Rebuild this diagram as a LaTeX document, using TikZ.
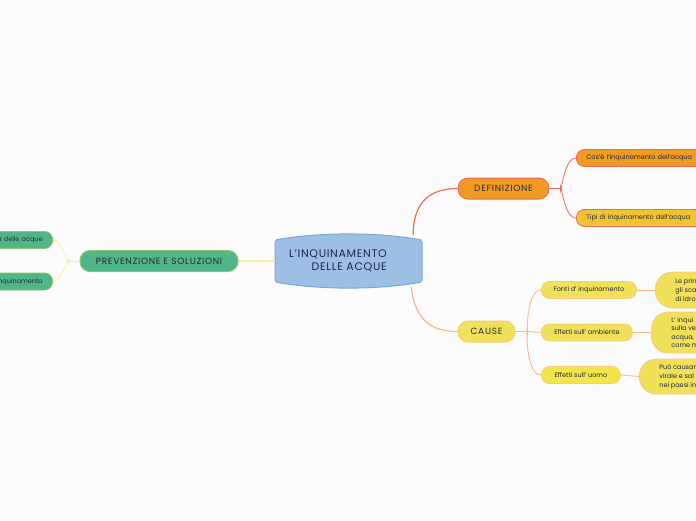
\documentclass[tikz,border=0pt]{standalone}
\usepackage{fontspec}
\setmainfont{Poppins}
\definecolor{bgc}{HTML}{FCFCFC}
\definecolor{ink}{HTML}{252A33}
\definecolor{blueF}{HTML}{9EBFE4}
\definecolor{blueD}{HTML}{7BA7D6}
\definecolor{greenF}{HTML}{50B688}
\definecolor{greenD}{HTML}{8CC56B}
\definecolor{orangeF}{HTML}{F09B22}
\definecolor{redD}{HTML}{F06A58}
\definecolor{goldF}{HTML}{F1C232}
\definecolor{yelF}{HTML}{F0E05A}
\definecolor{yelD}{HTML}{F9CB7A}
\definecolor{lineY}{HTML}{F7F09A}
\definecolor{lineR}{HTML}{F26A5E}
\definecolor{lineO}{HTML}{FDB585}
\tikzset{
  topic/.style={rounded corners=10pt, draw, line width=1pt, minimum height=21pt,
    inner xsep=2pt, font=\fontsize{9}{10}\selectfont\addfontfeature{LetterSpace=8}, text=ink},
  sub/.style={rounded corners=8pt, draw, line width=0.8pt, minimum height=17pt,
    inner xsep=10pt, font=\fontsize{6.5}{7}\selectfont, text=ink},
  leaf/.style={rounded corners=17pt, draw, line width=0.8pt, align=left,
    inner xsep=20pt, font=\fontsize{6.5}{9}\selectfont, text=ink, anchor=west}
}
\begin{document}
\begin{tikzpicture}[x=1pt, y=-1pt]
    \useasboundingbox (0,0) rectangle (696,520);
    \fill[bgc] (0,0) rectangle (696,520);
    \clip (0,0) rectangle (696,520);

    % central idea
    \filldraw[fill=blueF, draw=blueD, line width=1pt, rounded corners=2pt]
        (275,240) .. controls (320,232) and (377,232) .. (422,240) -- (422,282)
        .. controls (377,290) and (320,290) .. (275,282) -- cycle;
    \node[minimum width=147pt, minimum height=52pt] (central) at (348.5,261) {};
    \node[align=right, text=ink!85!blue, font=\fontsize{11}{13}\selectfont\addfontfeature{LetterSpace=6}] (title) at (338,261)
        {L'INQUINAMENTO\\DELLE ACQUE};

    % main branches
    \node[topic, fill=greenF, draw=greenD, minimum width=158pt] (prev) at (159,261) {PREVENZIONE E SOLUZIONI};
    \node[topic, fill=orangeF, draw=redD, minimum width=91pt] (defin) at (503.5,188.5) {DEFINIZIONE};
    \node[topic, fill=yelF, draw=yelD, minimum width=57pt] (cause) at (486.5,331.5) {CAUSE};

    % prevenzione
    \node[sub, fill=greenF, draw=greenD, anchor=east, text width=60pt, align=right] (tutela) at (53,240) {a delle acque};
    \node[sub, fill=greenF, draw=greenD, anchor=east, text width=60pt, align=right] (ridur) at (53,281.5) {nquinamento};

    % definizione
    \node[sub, fill=orangeF, draw=redD, anchor=west, minimum width=140pt, align=left, text width=120pt] (cosa) at (576,158) {Cos'è l'inquinamento dell'acqua};
    \node[sub, fill=goldF, draw=redD, anchor=west, minimum width=140pt, align=left, text width=120pt] (tipi) at (576,218) {Tipi di inquinamento dell'acqua};

    % cause
    \node[sub, fill=yelF, draw=yelD, anchor=west, minimum width=95pt] (fonti) at (541,290) {Fonti d' inquinamento};
    \node[sub, fill=yelF, draw=yelD, anchor=west, minimum width=91pt] (amb) at (541,332.5) {Effetti sull' ambiente};
    \node[sub, fill=yelF!85!yellow, draw=yelD, anchor=west, minimum width=79pt] (uomo) at (541,375) {Effetti sull' uomo};

    \node[leaf, fill=yelF, draw=yelD, minimum height=36pt] (fontiT) at (655,290) {Le prin\\gli sca\\di idro};
    \node[leaf, fill=yelF, draw=yelD, minimum height=41pt, font=\fontsize{6.5}{8.5}\selectfont] (ambT) at (651,332.5) {L' inqui\\sulla ve\\acqua,\\come m};
    \node[leaf, fill=yelF, draw=yelD, minimum height=35pt] (uomoT) at (639,376.5) {Può causar\\virale e sal\\nei paesi in};

    % connectors from the centre
    \draw[lineY, line width=1.5pt] (central.west) -- (prev.east);
    \draw[lineR, line width=1.2pt] ([xshift=-9pt]central.north east) .. controls +(0,-35) and +(-25,0) .. (defin.west);
    \draw[lineO, line width=1.2pt] ([xshift=-11pt]central.south east) .. controls +(4,34) and +(-25,0) .. (cause.west);

    % connectors to sub topics
    \draw[lineY, line width=0.8pt] (prev.west) -- ++(-10,0) coordinate (pj);
    \draw[lineY, line width=0.8pt] (pj) to[out=-90, in=0] (tutela.east);
    \draw[lineY, line width=0.8pt] (pj) to[out=90, in=0] (ridur.east);

    \draw[lineR, line width=0.8pt] (defin.east) -- ++(11,0) coordinate (dj);
    \draw[lineR, line width=0.8pt] (dj) to[out=-90, in=180] (cosa.west);
    \draw[lineR, line width=0.8pt] (dj) to[out=90, in=180] (tipi.west);

    \draw[lineO, line width=0.8pt] (cause.east) -- ++(12,0) coordinate (cj);
    \draw[lineO, line width=0.8pt] (cj) to[out=-90, in=180] (fonti.west);
    \draw[lineO, line width=0.8pt] (cj) -- (amb.west);
    \draw[lineO, line width=0.8pt] (cj) to[out=90, in=180] (uomo.west);

    \draw[lineO, line width=0.8pt] (fonti.east) -- (fontiT.west);
    \draw[lineO, line width=0.8pt] (amb.east) -- (ambT.west);
    \draw[lineO, line width=0.8pt] (uomo.east) -- (uomoT.west);
\end{tikzpicture}
\end{document}
